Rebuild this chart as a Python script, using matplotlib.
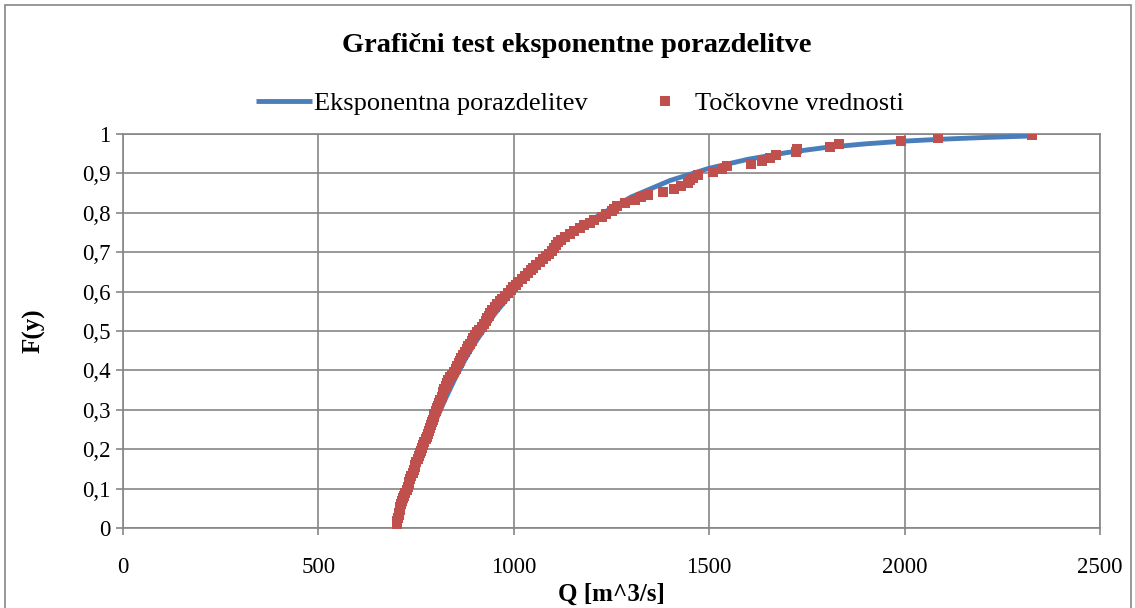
import matplotlib
matplotlib.use("Agg")
import matplotlib.pyplot as plt
from matplotlib.patches import Rectangle
from matplotlib.ticker import FuncFormatter, MultipleLocator

# ---- data ----
# Exponential distribution curve (Q, F)
curve_q = [700, 725, 750, 775, 800, 825, 850, 875, 900, 950, 1000, 1050, 1100,
           1150, 1200, 1300, 1400, 1500, 1600, 1700, 1800, 1900, 2000, 2100,
           2200, 2325]
curve_f = [0.0, 0.075, 0.145, 0.212, 0.272, 0.328, 0.380, 0.427, 0.469, 0.542,
           0.603, 0.656, 0.704, 0.747, 0.783, 0.840, 0.882, 0.913, 0.936, 0.953,
           0.966, 0.975, 0.982, 0.987, 0.991, 0.995]

# Point values (Q, F)
points_q = [700, 701, 702, 704, 705, 707, 709, 710, 712, 714,
            716, 719, 722, 726, 729, 731, 733, 735, 738, 741,
            744, 746, 748, 751, 754, 757, 760, 763, 765, 768,
            771, 775, 778, 780, 783, 785, 787, 790, 793, 795,
            797, 800, 803, 806, 809, 812, 815, 818, 820, 822,
            826, 830, 832, 836, 841, 846, 851, 855, 859, 862,
            866, 870, 875, 879, 883, 887, 892, 896, 901, 906,
            912, 918, 923, 928, 932, 936, 940, 945, 952, 958,
            964, 970, 977, 985, 993, 999, 1005, 1012, 1020, 1028,
            1036, 1044, 1050, 1058, 1066, 1074, 1082, 1090, 1097, 1102,
            1107, 1112, 1120, 1130, 1145, 1155, 1170, 1180, 1195, 1205,
            1225, 1237, 1250, 1256, 1265, 1285, 1310, 1325, 1343, 1381,
            1410, 1429, 1446, 1452, 1458, 1472, 1510, 1532, 1545, 1607,
            1636, 1655, 1670, 1722, 1725, 1808, 1833, 1991, 2085, 2325]
points_f = [0.0036, 0.0107, 0.0179, 0.0250, 0.0321, 0.0393, 0.0464, 0.0536, 0.0607, 0.0679,
            0.0750, 0.0821, 0.0893, 0.0964, 0.1036, 0.1107, 0.1179, 0.1250, 0.1321, 0.1393,
            0.1464, 0.1536, 0.1607, 0.1679, 0.1750, 0.1821, 0.1893, 0.1964, 0.2036, 0.2107,
            0.2179, 0.2250, 0.2321, 0.2393, 0.2464, 0.2536, 0.2607, 0.2679, 0.2750, 0.2821,
            0.2893, 0.2964, 0.3036, 0.3107, 0.3179, 0.3250, 0.3321, 0.3393, 0.3464, 0.3536,
            0.3607, 0.3679, 0.3750, 0.3821, 0.3893, 0.3964, 0.4036, 0.4107, 0.4179, 0.4250,
            0.4321, 0.4393, 0.4464, 0.4536, 0.4607, 0.4679, 0.4750, 0.4821, 0.4893, 0.4964,
            0.5036, 0.5107, 0.5179, 0.5250, 0.5321, 0.5393, 0.5464, 0.5536, 0.5607, 0.5679,
            0.5750, 0.5821, 0.5893, 0.5964, 0.6036, 0.6107, 0.6179, 0.6250, 0.6321, 0.6393,
            0.6464, 0.6536, 0.6607, 0.6679, 0.6750, 0.6821, 0.6893, 0.6964, 0.7036, 0.7107,
            0.7179, 0.7250, 0.7321, 0.7393, 0.7464, 0.7536, 0.7607, 0.7679, 0.7750, 0.7821,
            0.7893, 0.7964, 0.8036, 0.8107, 0.8179, 0.8250, 0.8321, 0.8393, 0.8464, 0.8536,
            0.8607, 0.8679, 0.8750, 0.8821, 0.8893, 0.8964, 0.9036, 0.9107, 0.9179, 0.9250,
            0.9321, 0.9393, 0.9464, 0.9536, 0.9607, 0.9679, 0.9750, 0.9821, 0.9893, 0.9964]

title = "Grafični test eksponentne porazdelitve"
curve_label = "Eksponentna porazdelitev"
points_label = "Točkovne vrednosti"
x_label = "Q [m^3/s]"
y_label = "F(y)"

# ---- figure ----
W, H = 1135, 608
plt.rcParams['font.family'] = ['Liberation Serif', 'DejaVu Serif']
fig = plt.figure(figsize=(W / 100, H / 100), dpi=100)
fig.patch.set_facecolor('white')

# outer chart border
fig.patches.append(Rectangle((5 / W, -0.05), (1131 - 5) / W, 1 - 5 / H + 0.05,
                             transform=fig.transFigure, fill=False,
                             edgecolor='#868686', linewidth=1.2))

left, right, top, bottom = 123, 1100, 134, 528
ax = fig.add_axes([left / W, (H - bottom) / H, (right - left) / W, (bottom - top) / H])

grid_c = '#868686'
ax.set_xlim(0, 2500)
ax.set_ylim(0, 1)
ax.xaxis.set_major_locator(MultipleLocator(500))
ax.yaxis.set_major_locator(MultipleLocator(0.1))
ax.grid(True, color=grid_c, linewidth=1.2)
ax.set_axisbelow(True)
for s in ax.spines.values():
    s.set_color(grid_c)
    s.set_linewidth(1.2)
ax.tick_params(axis='both', colors=grid_c, length=5, width=1.2, labelsize=16.5,
               labelcolor='black')
ax.tick_params(axis='x', pad=16)
ax.tick_params(axis='y', pad=4)
ax.yaxis.set_major_formatter(FuncFormatter(lambda v, p: ('%g' % round(v, 1)).replace('.', ',')))

ax.plot(curve_q, curve_f, color='#4A7EBB', linewidth=3.5, solid_capstyle='butt',
        label=curve_label, zorder=3)
ax.plot(points_q, points_f, linestyle='none', marker='s', markersize=6.5,
        color='#C0504D', markeredgewidth=0, label=points_label, zorder=4)

ax.set_xlabel(x_label, fontsize=18, fontweight='bold', labelpad=3)
ax.set_ylabel(y_label, fontsize=18, fontweight='bold', labelpad=26)

fig.text(577 / W, 1 - 45 / H, title, ha='center', va='center', fontsize=20.5,
         fontweight='bold')

leg = fig.legend(loc='center', bbox_to_anchor=(580 / W, 1 - 103 / H), ncol=2,
                 frameon=False, fontsize=19, handlelength=2.1, handletextpad=0.08,
                 columnspacing=1.9, markerscale=1.0)

fig.savefig('out.png', dpi=100, facecolor='white')
